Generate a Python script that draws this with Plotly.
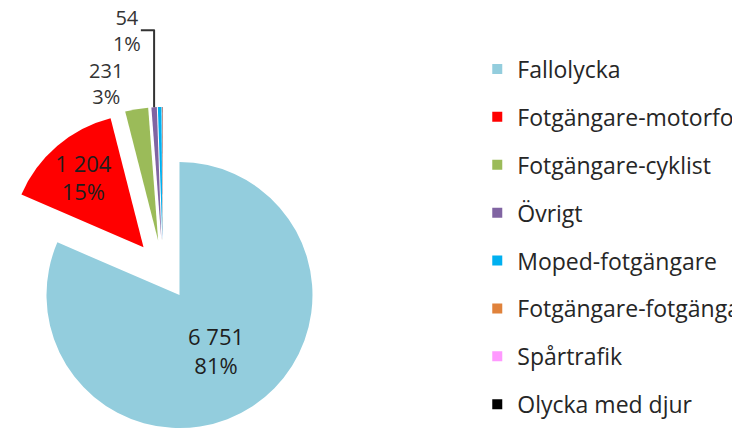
import plotly.graph_objects as go

categories = ["Fallolycka", "Fotgängare-motorfordon", "Fotgängare-cyklist", "Övrigt",
              "Moped-fotgängare", "Fotgängare-fotgängare", "Spårtrafik", "Olycka med djur"]
values = [6751, 1204, 231, 54, 36, 5, 2, 2]
colors = ["#93CDDD", "#FF0000", "#9BBB59", "#8064A2", "#00B0F0", "#E0823B", "#FF99FF", "#000000"]
show_label = [True, True, True, True, False, False, False, False]
label_pos = ["inside", "inside", "outside", "outside", "none", "none", "none", "none"]

FONT = "Open Sans"
H = 436

fig = go.Figure()
fig.add_trace(go.Pie(
    labels=categories, values=values, sort=False, direction="clockwise", rotation=0,
    marker=dict(colors=colors, line=dict(width=0)),
    pull=[0.2256] * len(values),
    texttemplate=["%{value:,}<br>%{percent:.0%}" if s else "" for s in show_label],
    textposition=label_pos,
    insidetextorientation="horizontal",
    insidetextfont=dict(family=FONT, size=22, color="#1e1e1e"),
    outsidetextfont=dict(family=FONT, size=20, color="#333333"),
    domain=dict(x=[0, 326 / 732], y=[0, 332 / H]),
    showlegend=False, hoverinfo="label+value+percent",
))

for i, (cat, col) in enumerate(zip(categories, colors)):
    fig.add_trace(go.Scatter(
        x=[None], y=[None], mode="markers", name=cat, legendgroup=f"g{i}",
        marker=dict(symbol="square", size=10, color=col), showlegend=True,
    ))

fig.update_layout(
    width=732, height=H,
    margin=dict(l=0, r=0, t=0, b=0, autoexpand=False),
    paper_bgcolor="white", plot_bgcolor="white",
    separators=", ",
    xaxis=dict(visible=False), yaxis=dict(visible=False),
    legend=dict(x=0.652, xanchor="left", y=0.891, yanchor="top",
                traceorder="grouped", tracegroupgap=15,
                font=dict(family=FONT, size=23, color="#262626"),
                bgcolor="rgba(0,0,0,0)"),
)

fig.write_html("out.html", config={"displayModeBar": False},
               post_script="document.body.style.margin='0';")
